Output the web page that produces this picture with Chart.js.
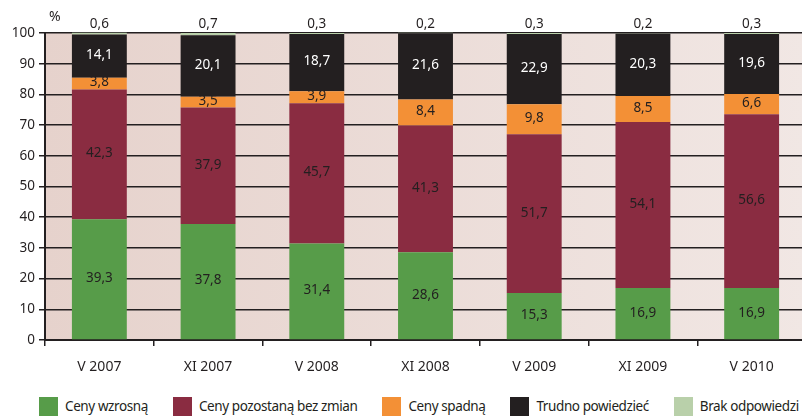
<!DOCTYPE html>
<html>
<head>
<meta charset="utf-8">
<script src="https://cdn.jsdelivr.net/npm/chart.js@4.4.0/dist/chart.umd.min.js"></script>
<style>
body { margin: 0; width: 802px; height: 416px; overflow: hidden; background: #fff; font-family: 'Noto Sans', sans-serif; }
#wrap { position: relative; width: 806px; height: 385px; }
#legend { position: absolute; left: 39px; top: 397px; display: flex; font-size: 13.5px; letter-spacing: -0.4px; color: #231f20; white-space: nowrap; }
.item { display: flex; align-items: center; margin-right: 25px; line-height: 19px; }
.box { width: 19px; height: 19px; margin-right: 7px; }
</style>
</head>
<body>
<div id="wrap"><canvas id="chart"></canvas></div>
<div id="legend"></div>
<script>
const labels = ['V 2007', 'XI 2007', 'V 2008', 'XI 2008', 'V 2009', 'XI 2009', 'V 2010'];
const seriesNames = ['Ceny wzrosną', 'Ceny pozostaną bez zmian', 'Ceny spadną', 'Trudno powiedzieć', 'Brak odpowiedzi'];
const wzrosna = [39.3, 37.8, 31.4, 28.6, 15.3, 16.9, 16.9];
const bezZmian = [42.3, 37.9, 45.7, 41.3, 51.7, 54.1, 56.6];
const spadna = [3.8, 3.5, 3.9, 8.4, 9.8, 8.5, 6.6];
const trudno = [14.1, 20.1, 18.7, 21.6, 22.9, 20.3, 19.6];
const brak = [0.6, 0.7, 0.3, 0.2, 0.3, 0.2, 0.3];
const colors = ['#579c49', '#8a2c41', '#f39036', '#231f20', '#b9d0aa'];
const dark = '#231f20';

const series = [wzrosna, bezZmian, spadna, trudno, brak];

// plot background, pink fading to the right
const plotBg = {
  id: 'plotBg',
  beforeDraw(chart) {
    const a = chart.chartArea;
    const c = chart.ctx;
    const g = c.createLinearGradient(a.left, 0, a.right, 0);
    g.addColorStop(0, '#e6d2cc');
    g.addColorStop(1, '#f1e7e4');
    c.save();
    c.fillStyle = g;
    c.fillRect(a.left, a.top, a.right - a.left, a.bottom - a.top);
    c.restore();
  }
};

const valueLabels = {
  id: 'valueLabels',
  afterDatasetsDraw(chart) {
    const c = chart.ctx;
    c.save();
    c.font = '13.5px "Noto Sans"';
    c.textAlign = 'center';
    chart.data.datasets.forEach((ds, i) => {
      chart.getDatasetMeta(i).data.forEach((bar, j) => {
        const txt = ds.data[j].toFixed(1).replace('.', ',');
        if (i === 4) {
          c.textBaseline = 'bottom';
          c.fillStyle = dark;
          c.fillText(txt, bar.x, bar.y - 2);
        } else {
          c.textBaseline = 'middle';
          c.fillStyle = i === 3 ? '#fff' : dark;
          c.fillText(txt, bar.x, (bar.y + bar.base) / 2 - 1);
        }
      });
    });
    c.font = '14px "Noto Sans"';
    c.textAlign = 'left';
    c.textBaseline = 'middle';
    c.fillStyle = dark;
    c.fillText('%', chart.chartArea.left + 4, 17);
    c.restore();
  }
};

Chart.defaults.font.family = 'Noto Sans';
Chart.defaults.font.size = 14;
Chart.defaults.color = dark;

new Chart(document.getElementById('chart'), {
  type: 'bar',
  data: {
    labels: labels,
    datasets: series.map((d, i) => ({
      label: seriesNames[i],
      data: d,
      backgroundColor: colors[i],
      barPercentage: 0.505,
      categoryPercentage: 1,
      clip: false
    }))
  },
  options: {
    responsive: true,
    maintainAspectRatio: false,
    animation: false,
    layout: { padding: { top: 33, left: 0, right: 0, bottom: 0 } },
    plugins: { legend: { display: false }, tooltip: { enabled: false } },
    scales: {
      x: {
        stacked: true,
        grid: { offset: true, drawOnChartArea: false, color: dark, tickLength: 6, lineWidth: 1.5 },
        border: { color: dark, width: 2 },
        ticks: { padding: 13, font: { size: 14 } },
        afterFit(s) { s.height = 45; }
      },
      y: {
        stacked: true,
        min: 0,
        max: 100,
        grid: { color: dark, lineWidth: 1.5, tickLength: 6 },
        border: { color: dark, width: 2 },
        ticks: { stepSize: 10, padding: 4, font: { size: 13.5 } },
        afterFit(s) { s.width = 45; }
      }
    }
  },
  plugins: [plotBg, valueLabels]
});

const legend = document.getElementById('legend');
seriesNames.forEach((name, i) => {
  const item = document.createElement('div');
  item.className = 'item';
  item.innerHTML = '<span class="box" style="background:' + colors[i] + '"></span><span>' + name + '</span>';
  legend.appendChild(item);
});
</script>
</body>
</html>
